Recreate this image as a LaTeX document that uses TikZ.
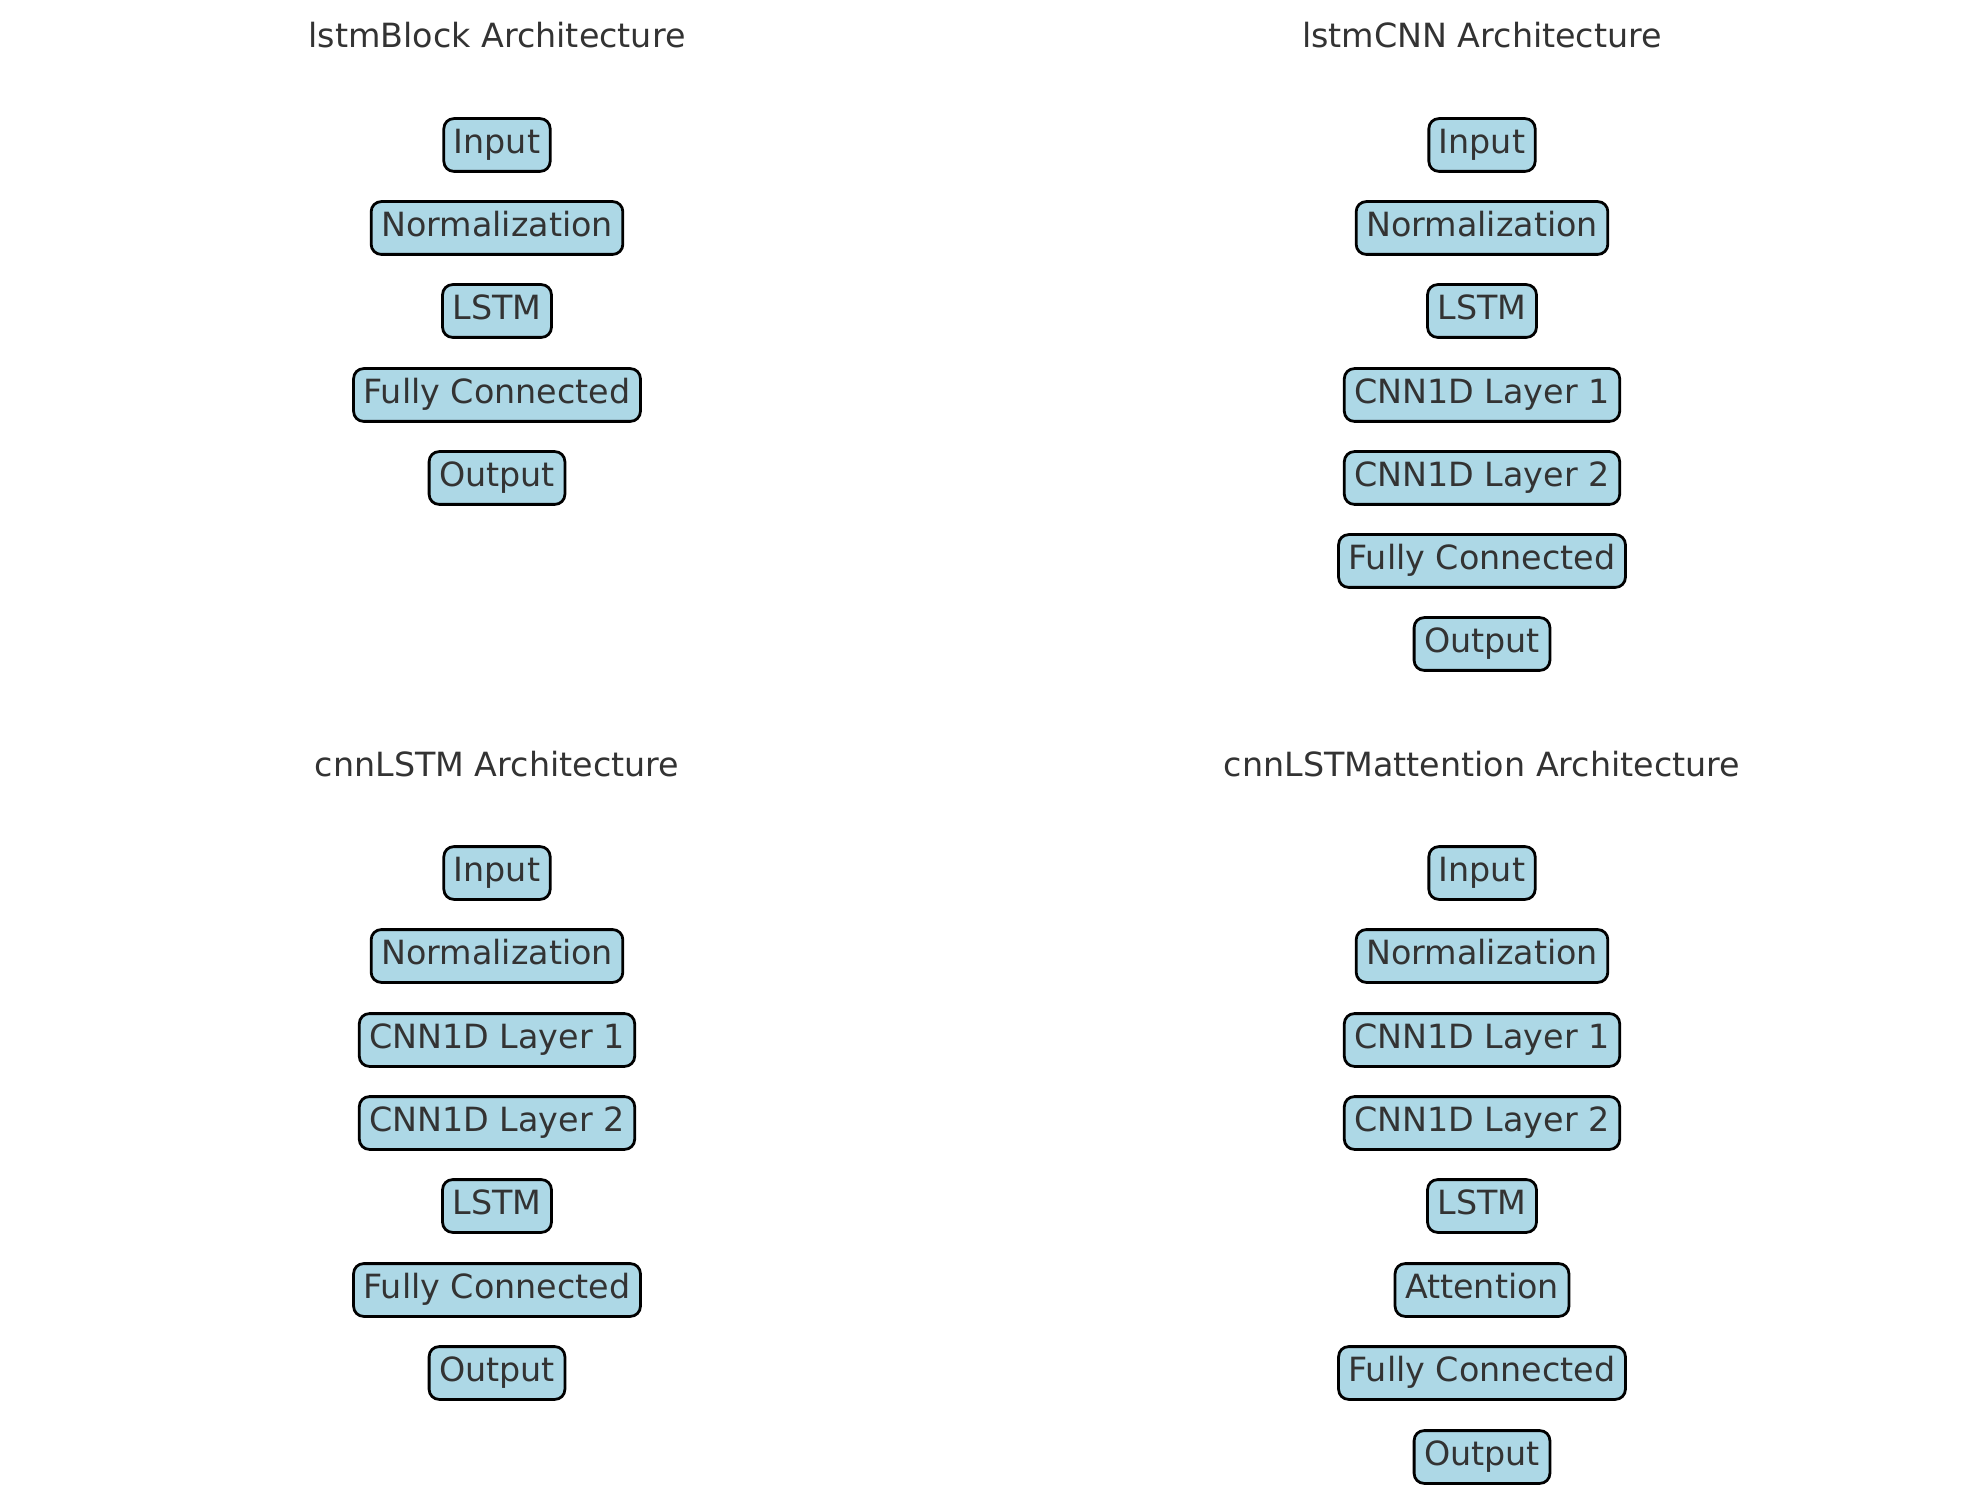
\documentclass[tikz,border=0pt]{standalone}
\usepackage{fontspec}
\setmainfont{DejaVu Sans}
\usepackage{tikz}
\definecolor{boxblue}{HTML}{ADD8E6}
\definecolor{txtgray}{HTML}{333333}

\begin{document}
\begin{tikzpicture}[x=0.36pt, y=-0.36pt,
        layer/.style = {draw, fill=boxblue, text=txtgray, rounded corners=3.6pt, line width=1pt,
                        inner xsep=3.6pt, inner ysep=3.4pt, text height=9.3pt, text depth=2.9pt,
                        font=\fontsize{12pt}{14pt}\selectfont},
        head/.style = {text=txtgray, font=\fontsize{12pt}{14pt}\selectfont}]
        \useasboundingbox (0,0) rectangle (1979,1493);
        % lstmBlock
        \node[head] (t1) at (497,35) {lstmBlock Architecture};
        \node[layer] (in1) at (497,145) {Input};
        \node[layer] (norm1) at (497,228) {Normalization};
        \node[layer] (lstm1) at (497,311) {LSTM};
        \node[layer] (fc1) at (497,395) {Fully Connected};
        \node[layer] (out1) at (497,478) {Output};
        % lstmCNN
        \node[head] (t2) at (1482,35) {lstmCNN Architecture};
        \node[layer] (in2) at (1482,145) {Input};
        \node[layer] (norm2) at (1482,228) {Normalization};
        \node[layer] (lstm2) at (1482,311) {LSTM};
        \node[layer] (cnna2) at (1482,395) {CNN1D Layer 1};
        \node[layer] (cnnb2) at (1482,478) {CNN1D Layer 2};
        \node[layer] (fc2) at (1482,561) {Fully Connected};
        \node[layer] (out2) at (1482,644) {Output};
        % cnnLSTM
        \node[head] (t3) at (497,764) {cnnLSTM Architecture};
        \node[layer] (in3) at (497,873) {Input};
        \node[layer] (norm3) at (497,956) {Normalization};
        \node[layer] (cnna3) at (497,1040) {CNN1D Layer 1};
        \node[layer] (cnnb3) at (497,1123) {CNN1D Layer 2};
        \node[layer] (lstm3) at (497,1206) {LSTM};
        \node[layer] (fc3) at (497,1290) {Fully Connected};
        \node[layer] (out3) at (497,1373) {Output};
        % cnnLSTMattention
        \node[head] (t4) at (1482,764) {cnnLSTMattention Architecture};
        \node[layer] (in4) at (1482,873) {Input};
        \node[layer] (norm4) at (1482,956) {Normalization};
        \node[layer] (cnna4) at (1482,1040) {CNN1D Layer 1};
        \node[layer] (cnnb4) at (1482,1123) {CNN1D Layer 2};
        \node[layer] (lstm4) at (1482,1206) {LSTM};
        \node[layer] (att4) at (1482,1290) {Attention};
        \node[layer] (fc4) at (1482,1373) {Fully Connected};
        \node[layer] (out4) at (1482,1457) {Output};
      \end{tikzpicture}
\end{document}
